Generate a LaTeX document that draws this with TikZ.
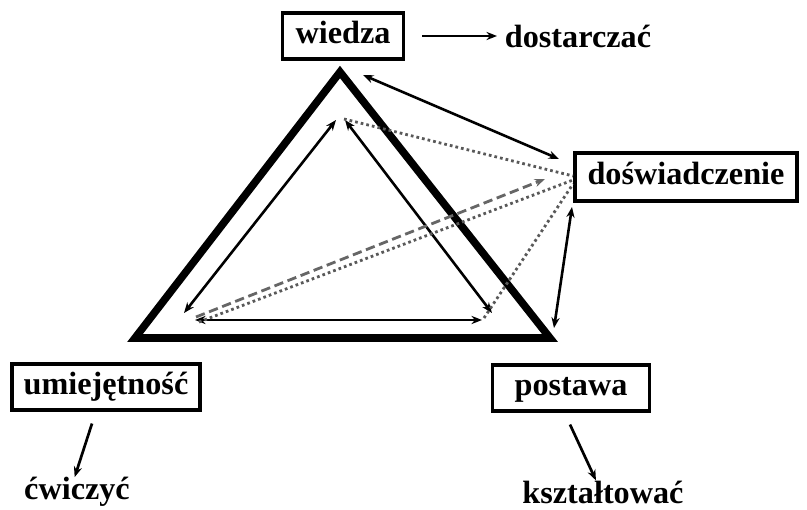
\documentclass[tikz,border=0pt]{standalone}
\usepackage{fontspec}
\setmainfont{Liberation Serif}
\usetikzlibrary{arrows.meta,positioning}
\tikzstyle{box} = [draw, line width=2.6pt, inner sep=0pt,
minimum height=1.38cm, text height=19pt, text depth=6pt,
font=\bfseries\fontsize{27.5}{30}\selectfont]
\tikzstyle{verb} = [inner sep=0pt, font=\bfseries\fontsize{27.5}{30}\selectfont]
\tikzstyle{arrow} = [-{Stealth[length=9pt,width=7pt]}, line width=2.3pt]
\tikzstyle{biarrow} = [{Stealth[length=9pt,width=7pt]}-{Stealth[length=9pt,width=7pt]}, line width=2.2pt]
\tikzstyle{dots} = [dash pattern=on 2.3pt off 2.6pt, line width=2.4pt, black!65]

\begin{document}
\begin{tikzpicture}[x=0.03cm,y=-0.03cm]
\useasboundingbox (0,0) rectangle (807,510);

% boxes
\node[box, minimum width=3.63cm] (wiedza) at (343,36) {wiedza};
\node[box, minimum width=6.66cm, minimum height=1.44cm] (dosw) at (686,177) {doświadczenie};
\node[box, minimum width=5.64cm] (umiej) at (106,387) {umiejętność};
\node[box, minimum width=4.71cm] (postawa) at (571,388) {postawa};

% verbs
\node[verb] (dost) at (578,36) {dostarczać};
\node[verb] (cwicz) at (77,492) {ćwiczyć};
\node[verb] (kszt) at (603,492) {kształtować};

% outer triangle
\coordinate (top) at (340,72);
\coordinate (bl) at (135,338);
\coordinate (br) at (550,338);
\draw[line width=6.5pt, line join=miter] (top) -- (bl) -- (br) -- cycle;

% inner ends
\coordinate (iL1) at (336,120);
\coordinate (iL2) at (184,313);
\coordinate (iR1) at (345,120);
\coordinate (iR2) at (492,313);
\coordinate (iB1) at (195,320);
\coordinate (iB2) at (482,320);
\draw[biarrow] (iL1) -- (iL2);
\draw[biarrow] (iR1) -- (iR2);
\draw[biarrow] (iB1) -- (iB2);

% links to doswiadczenie
\coordinate (dw1) at (573,176);
\coordinate (dw2) at (573,180);
\coordinate (dw3) at (573,184);
\coordinate (dDash) at (545,179);
\draw[dots] (344,119) -- (dw1);
\draw[dots] (199,322) -- (dw2);
\draw[dots] (484,318) -- (dw3);
\draw[-{Stealth[length=9pt,width=7pt]}, dash pattern=on 8pt off 4pt,
line width=2.4pt, black!60] (196,317) -- (dDash);
\draw[biarrow] (363,75) -- (559,159);
\draw[biarrow] (572,207) -- (554,328);

% verbs arrows
\draw[arrow] (wiedza.east)++(17,0) coordinate (w0) -- (497,36);
\draw[arrow] (umiej.south)++(-14,12) -- ([xshift=-2pt]cwicz.north);
\draw[arrow] (postawa.south)++(-1,12) -- ([xshift=-6pt]kszt.north);
\end{tikzpicture}
\end{document}
